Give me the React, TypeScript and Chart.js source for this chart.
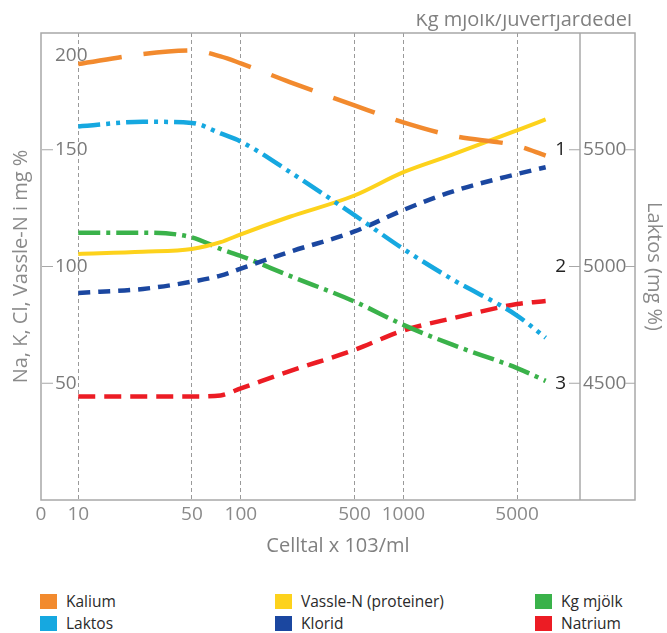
import React, { useEffect, useRef } from 'react';
import { Chart, registerables } from 'chart.js';

Chart.register(...registerables);

// ---- data ----
const CELLS = [10, 25, 50, 75, 100, 200, 500, 1000, 2000, 5000, 7500];
const KALIUM = [186.7, 191, 192.5, 190, 187, 179, 169, 161.7, 156, 151.7, 147.5];
const LAKTOS = [5600, 5620, 5615, 5570, 5535, 5405, 5220, 5075, 4945, 4790, 4695];
const VASSLE_N = [105.4, 106.3, 107.5, 110.4, 113.8, 121.3, 130.4, 140.4, 147.9, 158.3, 163];
const KLORID = [88.7, 90.4, 93.5, 96.1, 99.1, 106.3, 115, 124.2, 132.1, 139.6, 142.5];
const KG_MJOLK = [1.71, 1.71, 1.75, 1.85, 1.91, 2.08, 2.3, 2.5, 2.67, 2.87, 2.98];
const NATRIUM = [44.3, 44.3, 44.3, 44.8, 47.8, 55.2, 64.3, 72.6, 77.8, 83.9, 85.2];

const X_TICKS = [10, 50, 100, 500, 1000, 5000];
const Y_TICKS = [50, 100, 150, 200];
const LAKTOS_TICKS = [4500, 5000, 5500];
const KG_TICKS = [1, 2, 3];

const X_TITLE = 'Celltal x 103/ml';
const Y_TITLE = 'Na, K, Cl, Vassle-N i mg %';
const Y1_TITLE = 'Laktos (mg %)';
const Y2_TITLE = 'Kg mjölk/juverfjärdedel';

const X_MIN = 5.9;
const X_MAX = 12200;

const FONT_REG = "'Open Sans', sans-serif";
const NARROW = 'semi-condensed';
const FRAME = '#a8a8a8';

const SERIES = [
  { label: 'Kalium', color: '#F28A2E', values: KALIUM, axis: 'y', dash: [44, 22], width: 4.5 },
  { label: 'Laktos', color: '#16A8E0', values: LAKTOS, axis: 'y1', dash: [22, 6, 4, 6, 4, 6], width: 4.5 },
  { label: 'Vassle-N (proteiner)', color: '#FDD21C', values: VASSLE_N, axis: 'y', dash: [], width: 4 },
  { label: 'Klorid', color: '#1B47A0', values: KLORID, axis: 'y', dash: [12, 8], width: 4.5 },
  { label: 'Kg mjölk', color: '#3AB24A', values: KG_MJOLK, axis: 'y2', dash: [22, 6, 4, 6], width: 4.5 },
  { label: 'Natrium', color: '#EC1C24', values: NATRIUM, axis: 'y', dash: [17, 9], width: 4.5 },
];

const framePlugin = {
  id: 'frame',
  afterDraw(chart: any) {
    const { ctx, chartArea: a, scales } = chart;
    const outer = scales.y1.right - 32;
    ctx.save();
    ctx.strokeStyle = FRAME;
    ctx.lineWidth = 1.5;
    ctx.strokeRect(a.left, a.top, outer - a.left, a.bottom - a.top);
    ctx.beginPath();
    ctx.moveTo(a.right, a.top);
    ctx.lineTo(a.right, a.bottom);
    ctx.stroke();
    // tick dashes
    ctx.lineWidth = 1.2;
    ctx.beginPath();
    Y_TICKS.filter((v) => v < scales.y.max).forEach((v) => {
      const y = scales.y.getPixelForValue(v);
      ctx.moveTo(a.left + 1, y);
      ctx.lineTo(a.left + 12, y);
    });
    KG_TICKS.forEach((v) => {
      const y = scales.y2.getPixelForValue(v);
      ctx.moveTo(a.right - 11, y);
      ctx.lineTo(a.right, y);
    });
    LAKTOS_TICKS.forEach((v) => {
      const y = scales.y1.getPixelForValue(v);
      ctx.moveTo(outer - 10, y);
      ctx.lineTo(outer, y);
    });
    ctx.stroke();
    // x axis title, centred on the frame
    ctx.fillStyle = '#808080';
    ctx.font = `20px ${FONT_REG}`;
    ctx.textAlign = 'center';
    ctx.textBaseline = 'middle';
    ctx.fillText(X_TITLE, (a.left + outer) / 2, a.bottom + 46);
    // top-right title (clipped at the top as in the reference)
    ctx.beginPath();
    ctx.rect(0, 14, chart.width, 40);
    ctx.clip();
    ctx.textAlign = 'right';
    ctx.textBaseline = 'alphabetic';
    ctx.fillText(Y2_TITLE, outer - 3, 26);
    ctx.restore();
  },
};

const hiddenGrid = { display: false, drawTicks: false };
const noPad = (s: any) => {
  s.paddingTop = 0;
  s.paddingBottom = 0;
  s.paddingLeft = 0;
  s.paddingRight = 0;
};

function buildConfig(): any {
  return {
    type: 'line',
    data: {
      datasets: SERIES.map((s) => ({
        label: s.label,
        data: CELLS.map((x, i) => ({ x, y: s.values[i] })),
        yAxisID: s.axis,
        borderColor: s.color,
        backgroundColor: s.color,
        borderWidth: s.width,
        borderDash: s.dash,
        borderCapStyle: 'butt',
        pointRadius: 0,
        pointHoverRadius: 0,
        fill: false,
        cubicInterpolationMode: 'monotone',
      })),
    },
    options: {
      animation: false,
      responsive: false,
      events: [],
      layout: { padding: { top: 33, left: 0, right: 0, bottom: 0 } },
      plugins: { legend: { display: false }, tooltip: { enabled: false } },
      scales: {
        x: {
          type: 'logarithmic',
          min: X_MIN,
          max: X_MAX,
          afterBuildTicks: (s: any) => {
            s.ticks = [X_MIN, ...X_TICKS].map((value) => ({ value }));
          },
          afterFit: (s: any) => {
            s.height = 80;
            noPad(s);
          },
          grid: {
            color: (c: any) => (c.index === 0 ? 'rgba(0,0,0,0)' : '#9a9a9a'),
            lineWidth: 1,
            drawTicks: false,
            borderDash: [4, 3],
          },
          border: { display: false, dash: [4, 3] },
          ticks: {
            autoSkip: false,
            maxRotation: 0,
            padding: 3,
            color: '#8a8a8a',
            font: { family: FONT_REG, size: 19, style: NARROW },
            callback: (v: any, i: number) => (i === 0 ? '0' : String(v)),
          },
        },
        y: {
          position: 'left',
          min: 0,
          max: 200,
          afterBuildTicks: (s: any) => {
            s.ticks = Y_TICKS.map((value) => ({ value }));
          },
          afterFit: (s: any) => {
            s.width = 41;
            noPad(s);
          },
          grid: hiddenGrid,
          border: { display: false },
          ticks: {
            mirror: true,
            padding: 14,
            color: '#7a7a7a',
            font: { family: FONT_REG, size: 19, style: NARROW },
            callback: (v: any) => (v === 200 ? ['', '', '200'] : String(v)),
          },
          title: {
            display: true,
            text: Y_TITLE,
            color: '#8a8a8a',
            font: { family: FONT_REG, size: 20 },
            padding: { top: 9, bottom: 0 },
          },
        },
        y2: {
          position: 'right',
          weight: 0,
          min: 0,
          max: 4,
          reverse: true,
          afterBuildTicks: (s: any) => {
            s.ticks = KG_TICKS.map((value) => ({ value }));
          },
          afterFit: (s: any) => {
            s.width = 0;
            noPad(s);
          },
          grid: hiddenGrid,
          border: { display: false },
          ticks: {
            mirror: true,
            padding: -14,
            color: '#222222',
            font: { family: FONT_REG, size: 19 },
            callback: (v: any) => String(v),
          },
        },
        y1: {
          position: 'right',
          weight: 1,
          min: 4000,
          max: 6000,
          afterBuildTicks: (s: any) => {
            s.ticks = LAKTOS_TICKS.map((value) => ({ value }));
          },
          afterFit: (s: any) => {
            s.width = 87;
            noPad(s);
          },
          grid: hiddenGrid,
          border: { display: false },
          ticks: {
            padding: 3,
            color: '#7a7a7a',
            font: { family: FONT_REG, size: 19, style: NARROW },
            callback: (v: any) => String(v),
          },
          title: {
            display: true,
            text: Y1_TITLE,
            color: '#8a8a8a',
            font: { family: FONT_REG, size: 20 },
            padding: { top: 1, bottom: 0 },
          },
        },
      },
    },
    plugins: [framePlugin],
  };
}

const LEGEND_COL_LEFT = [0, 235, 495];

export default function App() {
  const canvasRef = useRef<HTMLCanvasElement>(null);

  useEffect(() => {
    const chart = new Chart(canvasRef.current as HTMLCanvasElement, buildConfig());
    return () => chart.destroy();
  }, []);

  return (
    <div style={{ position: 'fixed', left: 0, top: 0, width: 667, height: 633, background: '#fff', overflow: 'hidden' }}>
      <canvas
        ref={canvasRef}
        width={667}
        height={580}
        style={{ position: 'absolute', left: 0, top: 0, width: 667, height: 580 }}
      />
      <div style={{ position: 'absolute', left: 40, top: 592, width: 620, height: 41 }}>
        {SERIES.map((s, i) => (
          <div
            key={s.label}
            style={{
              position: 'absolute',
              left: LEGEND_COL_LEFT[Math.floor(i / 2)],
              top: (i % 2) * 22,
              display: 'flex',
              alignItems: 'center',
              height: 18,
              lineHeight: '18px',
              fontFamily: FONT_REG,
              fontSize: 15.5,
              color: '#2a2a2a',
              whiteSpace: 'nowrap',
            }}
          >
            <span style={{ display: 'inline-block', width: 17, height: 15, background: s.color, marginRight: 9 }} />
            <span>{s.label}</span>
          </div>
        ))}
      </div>
    </div>
  );
}
